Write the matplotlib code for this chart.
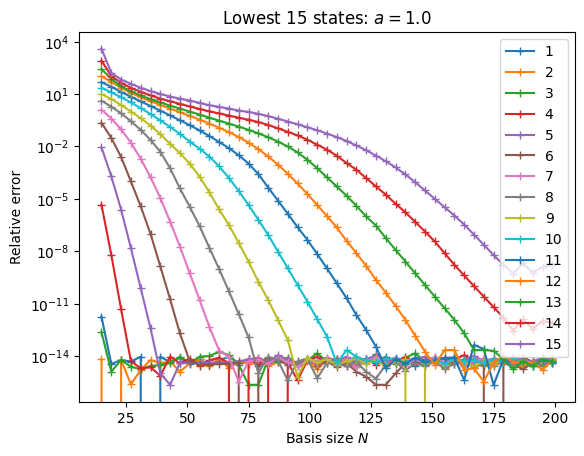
import numpy as np
import matplotlib
matplotlib.use("Agg")
import matplotlib.pyplot as plt

Z = -np.inf  # exact zero (relative error == 0)

# Basis sizes N
basis_size = list(range(15, 200, 4))

# log10 of the relative error for each state
log_err_1 = [-11.75, -14.46, -14.23, -14.32, -14.04, Z, -14.04, -14.35, -14.10, -14.45,
             -14.20, -14.50, -14.25, -14.05, -14.40, -14.20, -14.55, -14.30, -14.10, -14.35,
             -14.60, -14.25, -14.40, -14.15, -14.50, -14.30, -14.65, -14.20, -14.35, -14.05,
             -14.45, -14.25, -14.55, -14.30, -14.10, -14.40, -14.20, -14.60, -14.35, -14.15,
             -14.45, -14.30, -14.50, -14.25, -14.40, -14.20, -14.35]
log_err_2 = [-14.19, Z, -14.23, -15.63, -14.80, -14.23, -14.42, -14.30, -14.90, -14.42,
             -14.20, -14.55, -14.15, -14.70, -14.30, -14.45, -14.20, -14.60, -14.35, -14.10,
             -14.50, -14.30, -14.75, -14.25, -14.40, -14.15, -14.55, -14.35, -14.20, -14.60,
             -14.30, -14.45, -14.15, -14.50, -14.35, -14.70, -14.25, -14.40, -14.20, -14.55,
             -14.30, -14.45, -14.25, -14.60, -14.35, -14.50, -14.30]
log_err_3 = [-12.64, -14.90, -14.23, -14.61, -14.76, -14.57, -14.52, -14.40, -14.04, -14.42,
             -14.04, -14.00, -13.76, -13.95, -14.50, -15.65, -15.65, -14.20, -14.35, -14.10,
             -14.45, -14.25, -13.85, -14.30, -14.15, -14.50, -14.05, -14.35, -13.90, -14.25,
             -14.40, -14.10, -13.85, -14.30, -14.15, -14.45, -14.05, -14.35, -14.20, -14.50,
             -14.15, -14.30, -14.45, -14.10, -14.35, -14.25, -14.20]
log_err_4 = [-5.34, -8.21, -11.32, -14.30, -14.70, -14.65, -15.13, -14.04, -14.42, -14.15,
             -14.55, -14.25, -14.10, -14.40, Z, -14.20, -14.45, -14.10, Z, -14.35,
             -15.40, -14.25, -14.05, -14.40, -14.15, -14.60, -14.30, -14.15, -14.50, -14.20,
             -14.35, -14.05, -14.45, -14.25, -14.10, -14.40, -14.20, -13.95, -14.30, -14.15,
             -14.45, -14.25, -14.40, -14.10, -14.35, -14.20, -14.30]
log_err_5 = [-2.05, -3.71, -5.62, -7.82, -10.12, -12.41, -14.99, -15.65, -14.40, -14.40,
             -14.35, -14.40, -14.35, -14.40, -14.30, -14.20, -14.10, -14.35, -13.95, -14.20,
             -14.40, -14.15, -14.30, -14.10, -14.25, -14.05, -14.35, -14.20, -13.95, -14.25,
             -14.10, -14.30, -14.15, -14.05, -14.25, -14.10, -14.35, -14.20, -14.00, -14.30,
             -14.15, -14.25, -14.05, -14.20, -14.30, -14.10, -14.20]
log_err_6 = [-0.65, -1.51, -2.60, -4.00, -5.43, -7.00, -8.87, -10.75, -12.70, -14.30,
             -14.50, -14.50, -14.45, -14.45, -14.40, Z, -14.15, -14.40, -14.25, -14.50,
             -14.35, -14.20, -14.55, -14.30, -14.65, -14.40, -14.90, -15.19, -15.65, -15.65,
             -15.00, -14.40, -14.25, -14.50, -14.30, -14.15, -14.45, -14.25, -14.60, -14.35,
             Z, -14.30, -14.50, -14.75, -14.40, -14.55, -14.30]
log_err_7 = [0.11, -0.40, -1.02, -1.78, -2.70, -3.76, -4.95, -6.30, -7.73, -9.26,
             -10.78, -12.32, -13.69, -14.04, -15.47, -14.30, -14.20, -14.45, -14.10, -14.35,
             -14.60, -14.25, -14.40, -14.15, -14.50, -14.20, -14.65, -14.30, -14.10, -14.45,
             -14.25, -14.55, -14.20, -14.40, -14.05, -14.35, -14.25, -14.60, -14.30, -14.15,
             -14.45, -14.20, -14.40, -14.25, -14.50, -14.30, -14.35]
log_err_8 = [0.62, 0.28, -0.10, -0.55, -1.05, -1.62, -2.30, -3.25, -4.40, -5.45,
             -6.55, -7.80, -9.02, -10.30, -11.60, -12.93, -14.99, -14.04, -14.25, -15.40,
             -14.30, -14.15, -15.28, -14.40, -14.20, -14.55, -14.35, -14.90, -15.30, -14.50,
             -14.30, -14.85, -14.40, -14.60, -14.30, -14.75, -14.45, -14.30, -14.70, -14.40,
             -14.55, -14.35, -14.65, -14.40, -14.30, -14.55, -14.40]
log_err_9 = [1.00, 0.72, 0.38, 0.00, -0.38, -0.80, -1.30, -1.85, -2.38, -2.98,
             -3.72, -4.62, -5.60, -6.50, -7.52, -8.59, -9.74, -10.79, -11.93, -13.08,
             -15.19, -14.13, -14.35, -14.20, -14.50, -14.30, -14.15, -14.45, -14.25, -14.60,
             -14.35, -14.20, Z, -14.40, -14.25, -14.50, -14.15, -14.35, -14.60, -14.30,
             -14.45, -14.20, -14.50, -14.35, -14.60, -14.25, -14.40]
log_err_10 = [1.36, 1.10, 0.82, 0.52, 0.20, -0.14, -0.50, -0.88, -1.28, -1.72,
              -2.12, -2.58, -3.14, -3.80, -4.55, -5.35, -6.20, -7.06, -8.02, -8.97,
              -9.93, -10.88, -11.89, -12.89, -14.42, -13.66, -14.04, -14.25, -14.35, -14.15,
              -14.20, -14.40, -14.10, -14.35, -14.20, -14.45, -14.15, -14.30, -14.25, -14.40,
              -14.20, -14.35, -14.15, -14.30, -14.45, -14.25, -14.35]
log_err_11 = [1.68, 1.42, 1.12, 0.85, 0.58, 0.32, 0.05, -0.22, -0.50, -0.78,
              -1.08, -1.40, -1.74, -2.10, -2.50, -2.98, -3.58, -4.35, -5.10, -5.85,
              -6.62, -7.35, -8.15, -8.98, -9.83, -10.69, -11.65, -12.51, -13.47, -14.70,
              -14.20, -14.45, -14.10, -14.35, -14.25, -14.10, -14.10, -15.38, -13.37, -13.60,
              -15.66, -14.20, -14.45, -14.30, -14.55, -14.25, -14.40]
log_err_12 = [2.02, 1.70, 1.36, 1.07, 0.82, 0.59, 0.38, 0.17, -0.04, -0.25,
              -0.46, -0.69, -0.92, -1.18, -1.46, -1.78, -2.15, -2.57, -3.04, -3.56,
              -4.12, -4.72, -5.35, -5.98, -6.64, -7.40, -8.11, -8.84, -9.64, -10.37,
              -11.13, -11.93, -12.85, -13.75, -14.52, -13.66, -13.66, -14.80, -14.70, -15.47,
              -14.38, -14.00, -14.38, -14.30, -14.38, -14.80, -14.20]
log_err_13 = [2.43, 1.87, 1.45, 1.16, 0.92, 0.71, 0.52, 0.34, 0.17, 0.00,
              -0.17, -0.35, -0.52, -0.69, -0.86, -1.05, -1.25, -1.47, -1.72, -2.00,
              -2.34, -2.76, -3.24, -3.77, -4.29, -4.82, -5.40, -6.01, -6.53, -7.25,
              -7.92, -8.59, -9.26, -9.93, -10.60, -11.26, -11.93, -12.70, -13.66, -13.66,
              -13.70, -14.19, -14.76, -14.30, -14.60, -14.20, -14.30]
log_err_14 = [2.92, 2.03, 1.64, 1.36, 1.13, 0.93, 0.74, 0.59, 0.44, 0.29,
              0.15, 0.01, -0.11, -0.23, -0.35, -0.47, -0.60, -0.77, -0.96, -1.16,
              -1.37, -1.61, -1.90, -2.18, -2.53, -2.95, -3.33, -3.81, -4.29, -4.76,
              -5.28, -5.77, -6.32, -6.87, -7.44, -8.11, -8.78, -9.39, -10.00, -10.60,
              -11.20, -11.80, -12.55, -11.90, -12.45, -12.00, -12.10]
log_err_15 = [3.60, 2.22, 1.83, 1.59, 1.36, 1.17, 1.01, 0.86, 0.74, 0.63,
              0.50, 0.36, 0.27, 0.17, 0.06, -0.02, -0.13, -0.26, -0.41, -0.57,
              -0.73, -0.90, -1.07, -1.26, -1.46, -1.69, -1.94, -2.22, -2.52, -2.85,
              -3.20, -3.60, -4.05, -4.52, -5.00, -5.48, -5.96, -6.47, -7.05, -7.63,
              -8.22, -8.78, -9.28, -8.70, -9.22, -8.90, -8.78]

state_labels = [str(i) for i in range(1, 16)]
all_series = [log_err_1, log_err_2, log_err_3, log_err_4, log_err_5, log_err_6,
              log_err_7, log_err_8, log_err_9, log_err_10, log_err_11, log_err_12,
              log_err_13, log_err_14, log_err_15]

fig, ax = plt.subplots(figsize=(6.4, 4.8), dpi=100)
for label, series in zip(state_labels, all_series):
    rel_err = np.power(10.0, np.array(series, dtype=float))
    ax.plot(basis_size, rel_err, marker='+', label=label)

ax.set_yscale('log')
ax.set_ylim(10 ** -16.62, 10 ** 4.55)
ax.set_xlabel('Basis size $N$')
ax.set_ylabel('Relative error')
ax.set_title('Lowest 15 states: $a = 1.0$')
ax.legend(loc='upper right')

fig.savefig('out.png', dpi=100, bbox_inches='tight')
